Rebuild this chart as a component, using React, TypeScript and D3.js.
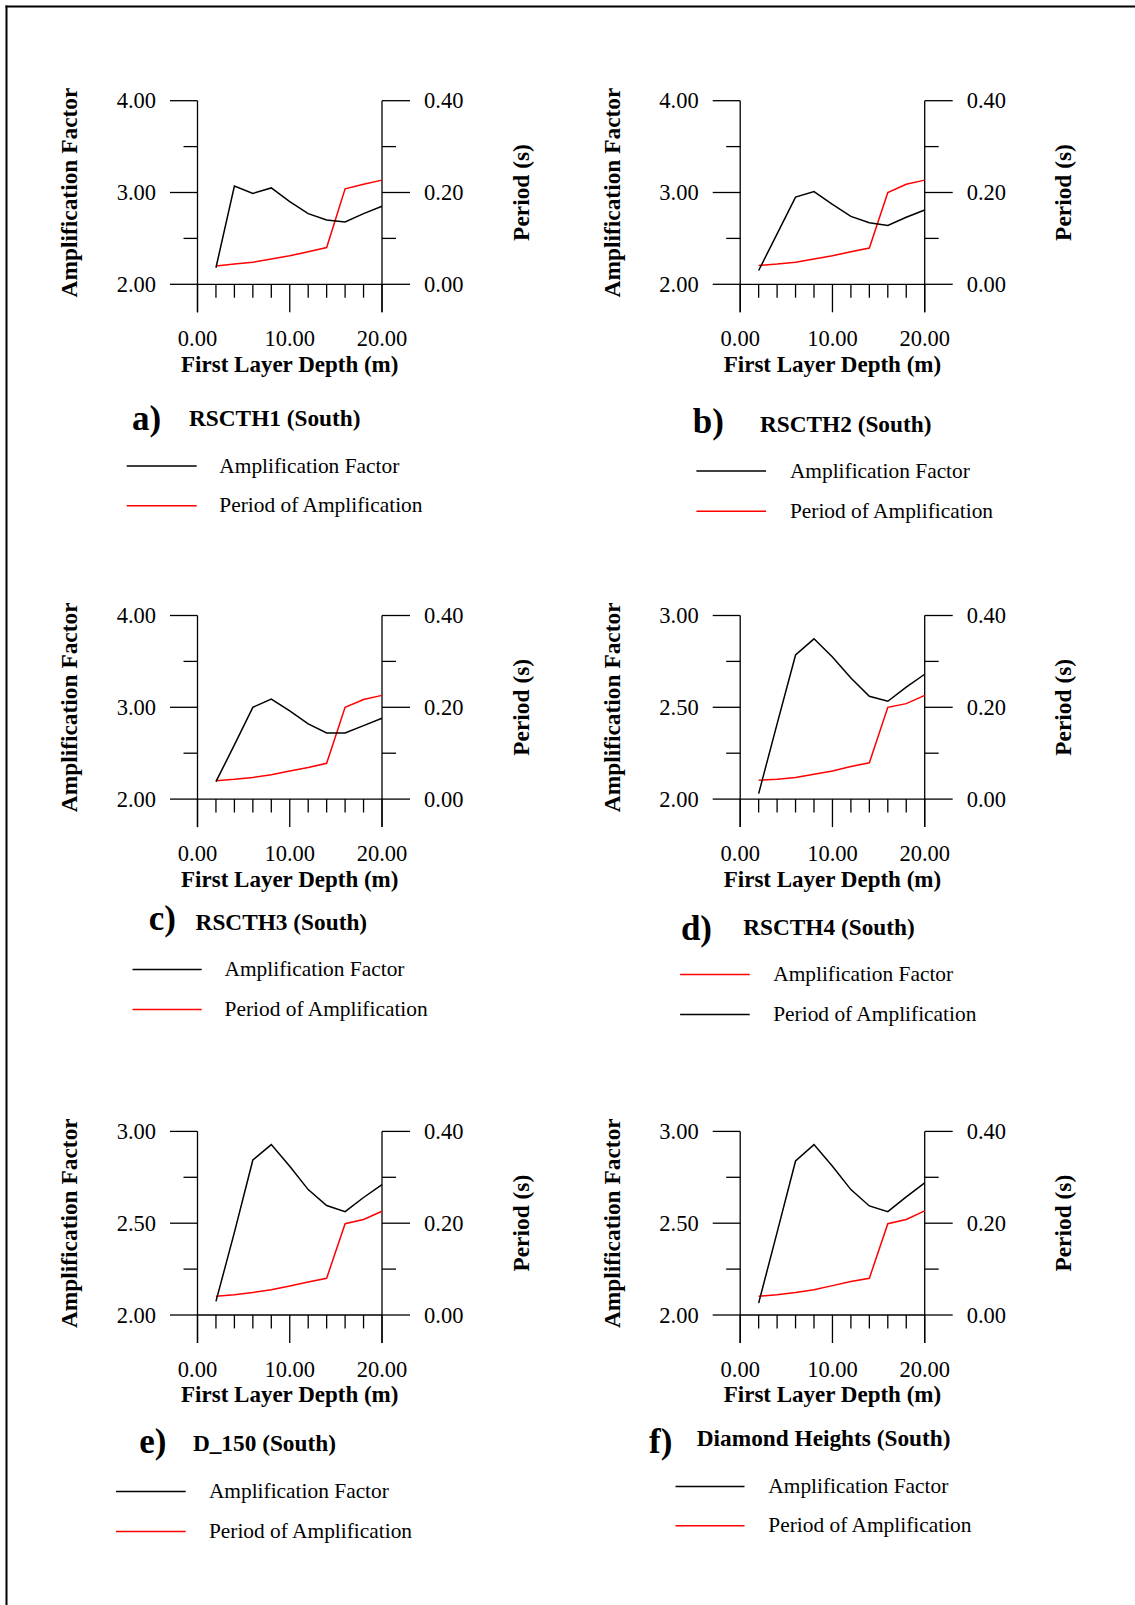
import React from "react";
import * as d3 from "d3";

// ---------- DATA ----------
const depths = [2, 4, 6, 8, 10, 12, 14, 16, 18, 20];

const ampA = [2.18, 3.07, 2.99, 3.05, 2.9, 2.77, 2.7, 2.68, 2.77, 2.85];
const perA = [0.04, 0.044, 0.048, 0.055, 0.062, 0.071, 0.08, 0.208, 0.218, 0.227];

const ampB = [2.15, 2.55, 2.95, 3.01, 2.87, 2.74, 2.67, 2.64, 2.73, 2.81];
const perB = [0.041, 0.044, 0.048, 0.055, 0.062, 0.071, 0.079, 0.2, 0.218, 0.227];

const ampC = [2.19, 2.59, 3.0, 3.09, 2.96, 2.82, 2.72, 2.72, 2.8, 2.88];
const perC = [0.04, 0.043, 0.047, 0.053, 0.061, 0.069, 0.078, 0.2, 0.217, 0.226];

const ampD = [2.03, 2.41, 2.785, 2.873, 2.774, 2.66, 2.56, 2.533, 2.61, 2.68];
const perD = [0.041, 0.043, 0.047, 0.054, 0.061, 0.071, 0.079, 0.2, 0.208, 0.226];

const ampE = [2.074, 2.45, 2.844, 2.928, 2.81, 2.683, 2.596, 2.563, 2.64, 2.71];
const perE = [0.041, 0.044, 0.049, 0.055, 0.063, 0.072, 0.08, 0.199, 0.208, 0.226];

const ampF = [2.065, 2.45, 2.839, 2.928, 2.81, 2.683, 2.594, 2.563, 2.643, 2.72];
const perF = [0.041, 0.044, 0.049, 0.055, 0.064, 0.073, 0.08, 0.199, 0.208, 0.227];

const panelLetters = ["a)", "b)", "c)", "d)", "e)", "f)"];
const panelNames = [
  "RSCTH1 (South)",
  "RSCTH2 (South)",
  "RSCTH3 (South)",
  "RSCTH4 (South)",
  "D_150 (South)",
  "Diamond Heights (South)",
];
const ampSeries = [ampA, ampB, ampC, ampD, ampE, ampF];
const perSeries = [perA, perB, perC, perD, perE, perF];

const ampDomains = [
  [2, 4],
  [2, 4],
  [2, 4],
  [2, 3],
  [2, 3],
  [2, 3],
];
const ampTicksWide = [2, 2.5, 3, 3.5, 4];
const ampLabelsWide = [2, 3, 4];
const ampTicksNarrow = [2, 2.25, 2.5, 2.75, 3];
const ampLabelsNarrow = [2, 2.5, 3];

const periodDomain = [0, 0.4];
const periodTicks = [0, 0.1, 0.2, 0.3, 0.4];
const periodLabels = [0, 0.2, 0.4];

const xDomain = [0, 20];
const xTicks = [0, 2, 4, 6, 8, 10, 12, 14, 16, 18, 20];
const xLabels = [0, 10, 20];

const legendTexts = ["Amplification Factor", "Period of Amplification"];
// legend colours per panel (panel d has them swapped in the original)
const legendColors = [
  ["#000", "#ff0000"],
  ["#000", "#ff0000"],
  ["#000", "#ff0000"],
  ["#ff0000", "#000"],
  ["#000", "#ff0000"],
  ["#000", "#ff0000"],
];

// ---------- LAYOUT ----------
const PW = 184.5;
const PH = 183.6;
const plotOrigins = [
  [197.5, 100.7],
  [740.2, 100.7],
  [197.5, 615.5],
  [740.2, 615.5],
  [197.5, 1131.4],
  [740.2, 1131.4],
];
// letterX, letterY, nameX, nameY, legX1, legX2, legY1, legY2, legTextX
const titleLayout = [
  [132, 430, 189, 425.7, 126.7, 196.7, 466, 505.7, 219.3],
  [692.7, 433, 759.9, 431.5, 696.4, 766.1, 471, 511.3, 789.9],
  [148.8, 930.4, 195.6, 929.5, 132.5, 201.7, 969.5, 1009.4, 224.5],
  [680.9, 940.4, 743.2, 934.8, 680.1, 749.7, 974.5, 1014.5, 773.2],
  [139.3, 1452.5, 192.9, 1451.2, 116, 185.7, 1491.4, 1531.5, 208.9],
  [649.1, 1452.5, 696.8, 1446.2, 675.5, 744.5, 1486.4, 1525.8, 768.3],
];

const FONT = "'Liberation Serif', 'Times New Roman', serif";
const AX = 1.3;

function Panel({ i }: { i: number }) {
  const [left, top] = plotOrigins[i];
  const right = left + PW;
  const bottom = top + PH;
  const x = d3.scaleLinear().domain(xDomain).range([left, right]);
  const yA = d3.scaleLinear().domain(ampDomains[i]).range([bottom, top]);
  const yP = d3.scaleLinear().domain(periodDomain).range([bottom, top]);
  const wide = ampDomains[i][1] === 4;
  const aTicks = wide ? ampTicksWide : ampTicksNarrow;
  const aLabels = wide ? ampLabelsWide : ampLabelsNarrow;

  const ampLine = d3
    .line<number>()
    .x((_, k) => x(depths[k]))
    .y((v) => yA(v));
  const perLine = d3
    .line<number>()
    .x((_, k) => x(depths[k]))
    .y((v) => yP(v));

  const isLabel = (arr: number[], v: number) => arr.some((a) => Math.abs(a - v) < 1e-9);
  const midY = (top + bottom) / 2;
  const L = titleLayout[i];

  return (
    <g>
      {/* left axis */}
      <line x1={left} x2={left} y1={top} y2={bottom + 28} stroke="#000" strokeWidth={AX} />
      {aTicks.map((t) => (
        <line
          key={"la" + t}
          x1={left - (isLabel(aLabels, t) ? 27.5 : 14)}
          x2={left}
          y1={yA(t)}
          y2={yA(t)}
          stroke="#000"
          strokeWidth={AX}
        />
      ))}
      {aLabels.map((t) => (
        <text
          key={"lal" + t}
          x={left - 41.5}
          y={yA(t) + 7.6}
          textAnchor="end"
          fontFamily={FONT}
          fontSize={22.5}
        >
          {t.toFixed(2)}
        </text>
      ))}
      {/* right axis */}
      <line x1={right} x2={right} y1={top} y2={bottom + 28} stroke="#000" strokeWidth={AX} />
      {periodTicks.map((t) => (
        <line
          key={"rp" + t}
          x1={right}
          x2={right + (isLabel(periodLabels, t) ? 28 : 14)}
          y1={yP(t)}
          y2={yP(t)}
          stroke="#000"
          strokeWidth={AX}
        />
      ))}
      {periodLabels.map((t) => (
        <text
          key={"rpl" + t}
          x={right + 42}
          y={yP(t) + 7.6}
          textAnchor="start"
          fontFamily={FONT}
          fontSize={22.5}
        >
          {t.toFixed(2)}
        </text>
      ))}
      {/* bottom axis */}
      <line x1={left} x2={right} y1={bottom} y2={bottom} stroke="#000" strokeWidth={AX} />
      {xTicks.map((t) => (
        <line
          key={"xt" + t}
          x1={x(t)}
          x2={x(t)}
          y1={bottom}
          y2={bottom + (isLabel(xLabels, t) ? 28 : 13.4)}
          stroke="#000"
          strokeWidth={AX}
        />
      ))}
      {xLabels.map((t) => (
        <text
          key={"xl" + t}
          x={x(t)}
          y={bottom + 61.7}
          textAnchor="middle"
          fontFamily={FONT}
          fontSize={22.5}
        >
          {t.toFixed(2)}
        </text>
      ))}
      <text
        x={(left + right) / 2}
        y={bottom + 87.4}
        textAnchor="middle"
        fontFamily={FONT}
        fontSize={23}
        fontWeight="bold"
      >
        First Layer Depth (m)
      </text>
      <text
        transform={`translate(${left - 120.5},${midY}) rotate(-90)`}
        textAnchor="middle"
        fontFamily={FONT}
        fontSize={23.4}
        fontWeight="bold"
      >
        Amplification Factor
      </text>
      <text
        transform={`translate(${right + 146.6},${midY}) rotate(-90)`}
        textAnchor="middle"
        fontFamily={FONT}
        fontSize={23.4}
        fontWeight="bold"
      >
        Period (s)
      </text>
      {/* data */}
      <path d={perLine(perSeries[i]) || ""} fill="none" stroke="#ff0000" strokeWidth={1.5} />
      <path d={ampLine(ampSeries[i]) || ""} fill="none" stroke="#000" strokeWidth={1.5} />
      {/* titles */}
      <text x={L[0]} y={L[1]} fontFamily={FONT} fontSize={35} fontWeight="bold">
        {panelLetters[i]}
      </text>
      <text x={L[2]} y={L[3]} fontFamily={FONT} fontSize={23.3} fontWeight="bold">
        {panelNames[i]}
      </text>
      {/* legend */}
      {legendTexts.map((txt, k) => {
        const ly = k === 0 ? L[6] : L[7];
        return (
          <g key={"lg" + k}>
            <line x1={L[4]} x2={L[5]} y1={ly} y2={ly} stroke={legendColors[i][k]} strokeWidth={1.5} />
            <text x={L[8]} y={ly + 6.5} fontFamily={FONT} fontSize={21.4}>
              {txt}
            </text>
          </g>
        );
      })}
    </g>
  );
}

export default function App() {
  return (
    <div style={{ position: "absolute", left: 0, top: 0, width: 1135, height: 1605, overflow: "hidden" }}>
      <svg width={1135} height={1605} style={{ display: "block", background: "#fff" }}>
        <rect x={0} y={0} width={1135} height={1605} fill="#fff" />
        <line x1={6.5} x2={6.5} y1={5.5} y2={1605} stroke="#000" strokeWidth={2} />
        <line x1={5.5} x2={1135} y1={6.5} y2={6.5} stroke="#000" strokeWidth={2} />
        {panelLetters.map((_, i) => (
          <Panel key={i} i={i} />
        ))}
      </svg>
    </div>
  );
}
